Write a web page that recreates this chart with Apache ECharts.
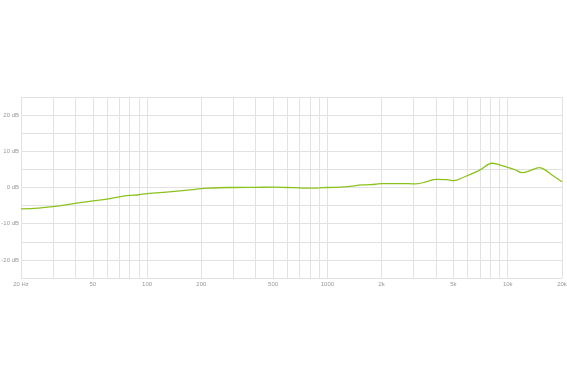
<!DOCTYPE html>
<html>
<head>
<meta charset="utf-8">
<script src="https://cdn.jsdelivr.net/npm/echarts@6/dist/echarts.min.js"></script>
<style>
html,body{margin:0;padding:0;background:#fff;}
#chart{width:567px;height:380px;}
</style>
</head>
<body>
<div id="chart"></div>
<script>
// Frequency response (Hz, dB)
var freqs = [20, 25, 30, 40, 50, 60, 70, 80, 90, 100, 137, 185, 200, 280, 300, 400, 500, 600, 700, 800, 900, 1000, 1260, 1560, 1850, 2000, 2400, 2825, 3100, 3600, 4000, 4565, 5000, 5730, 7000, 8200, 8850, 10100, 11000, 12000, 13100, 15000, 16200, 17600, 20000];
var levels = [-5.9, -5.7, -5.3, -4.4, -3.7, -3.2, -2.6, -2.2, -2.0, -1.7, -1.15, -0.5, -0.3, 0.0, 0.0, 0.05, 0.1, 0.0, -0.1, -0.2, -0.1, 0.0, 0.2, 0.7, 0.9, 1.05, 1.05, 1.05, 1.0, 1.7, 2.25, 2.2, 1.9, 2.9, 4.8, 6.7, 6.4, 5.5, 4.9, 4.1, 4.5, 5.5, 4.8, 3.45, 1.6];
var gridFreqs = [20, 30, 40, 50, 60, 70, 80, 90, 100, 200, 300, 400, 500, 600, 700, 800, 900, 1000, 2000, 3000, 4000, 5000, 6000, 7000, 8000, 9000, 10000, 20000];
var labelFreqs = [20, 50, 100, 200, 500, 1000, 2000, 5000, 10000, 20000];
var labelTexts = ['20 Hz', '50', '100', '200', '500', '1000', '2k', '5k', '10k', '20k'];

var lineData = freqs.map(function (f, i) { return [f, levels[i]]; });
var markData = gridFreqs.map(function (f) {
  var idx = labelFreqs.indexOf(f);
  var item = { xAxis: f };
  if (idx >= 0) {
    item.label = { show: true, formatter: labelTexts[idx] };
  } else {
    item.label = { show: false };
  }
  return item;
});

var chart = echarts.init(document.getElementById('chart'), null, { renderer: 'canvas' });
chart.setOption({
  animation: false,
  backgroundColor: '#ffffff',
  grid: { left: 21, right: 5, top: 97, bottom: 102, containLabel: false, outerBoundsMode: 'none' },
  xAxis: {
    type: 'log',
    logBase: 10,
    min: 20,
    max: 20000,
    axisLine: { show: false },
    axisTick: { show: false },
    axisLabel: { show: false },
    splitLine: { show: false }
  },
  yAxis: {
    type: 'value',
    min: -25,
    max: 25,
    interval: 5,
    axisLine: { show: false },
    axisTick: { show: false },
    axisLabel: {
      margin: 2,
      fontSize: 6,
      color: '#999999',
      fontFamily: 'Arial, Liberation Sans, sans-serif',
      formatter: function (v) { return v % 10 === 0 ? v + ' dB' : ''; }
    },
    splitLine: { show: true, lineStyle: { color: '#e2e2e2', width: 1 } }
  },
  series: [{
    type: 'line',
    data: lineData,
    smooth: 0.4,
    showSymbol: false,
    lineStyle: { color: '#8cc21e', width: 1.3 },
    itemStyle: { color: '#8cc21e' },
    z: 5,
    markLine: {
      silent: true,
      symbol: ['none', 'none'],
      animation: false,
      lineStyle: { color: '#e2e2e2', width: 1, type: 'solid' },
      label: {
        position: 'start',
        distance: 3,
        fontSize: 6,
        color: '#999999',
        fontFamily: 'Arial, Liberation Sans, sans-serif'
      },
      emphasis: { disabled: true },
      data: markData
    }
  }]
});
</script>
</body>
</html>
